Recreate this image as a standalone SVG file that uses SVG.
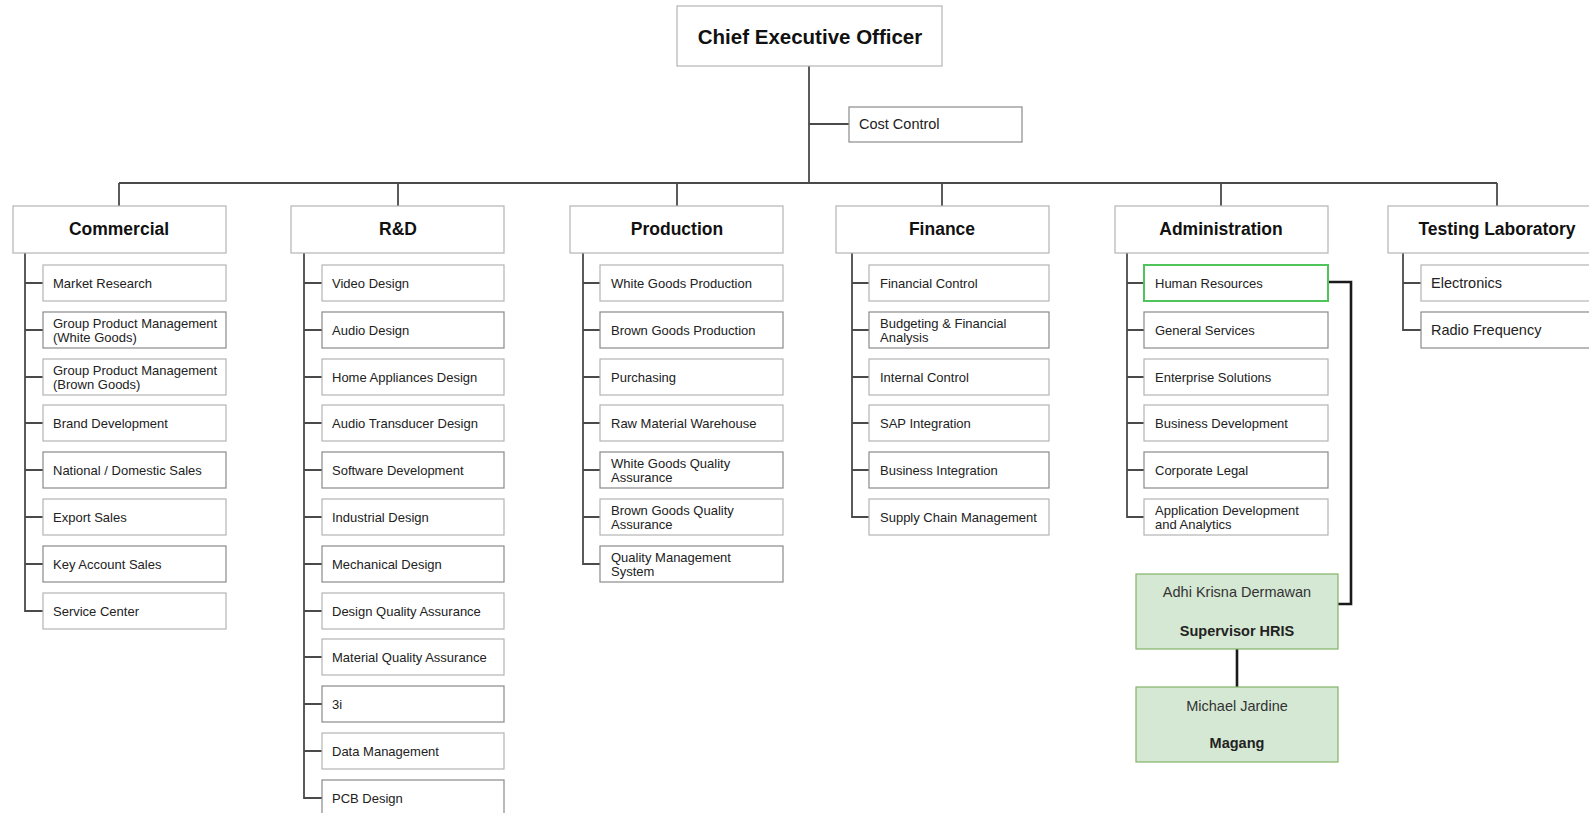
<svg xmlns="http://www.w3.org/2000/svg" width="1589" height="813" viewBox="0 0 1589 813">
<style>
.bg{fill:#ffffff}
.box{fill:#ffffff;stroke:#b4b4b4;stroke-width:1.2}
.dk{stroke:#8a8a8a}
.hr{fill:#ffffff;stroke:#4fc45a;stroke-width:2}
.grn{fill:#d5e8d4;stroke:#82b366;stroke-width:1.2}
.ln{fill:none;stroke:#4a4a4a;stroke-width:1.8}
.thk{fill:none;stroke:#1a1a1a;stroke-width:2.6}
text{font-family:"Liberation Sans",Arial,Helvetica,sans-serif;fill:#222}
.ceo{font-size:20.5px;font-weight:bold;text-anchor:middle;dominant-baseline:central;fill:#111}
.dep{font-size:17.5px;font-weight:bold;text-anchor:middle;dominant-baseline:central;fill:#111}
.ch{font-size:13px;dominant-baseline:central}
.cc{font-size:14.5px;dominant-baseline:central}
.tl{font-size:14.5px;dominant-baseline:central}
.gn{font-size:14.5px;text-anchor:middle;dominant-baseline:central;fill:#333}
.gb{font-size:14.5px;font-weight:bold;text-anchor:middle;dominant-baseline:central;fill:#222}
</style>
<rect class="bg" x="0" y="0" width="1589" height="813"/>

<g id="connectors">
  <!-- CEO trunk and bus -->
  <path class="ln" d="M809,66 V183 M809,124 H849 M119,183 H1497"/>
  <path class="ln" d="M119,183 V206 M398,183 V206 M677,183 V206 M942,183 V206 M1221,183 V206 M1497,183 V206"/>
  <!-- Commercial -->
  <path class="ln" d="M25,253 V611 H43 M25,283 H43 M25,330 H43 M25,377 H43 M25,423 H43 M25,470 H43 M25,517 H43 M25,564 H43"/>
  <!-- R&D -->
  <path class="ln" d="M304,253 V798 H322 M304,283 H322 M304,330 H322 M304,377 H322 M304,423 H322 M304,470 H322 M304,517 H322 M304,564 H322 M304,611 H322 M304,657 H322 M304,704 H322 M304,751 H322"/>
  <!-- Production -->
  <path class="ln" d="M583,253 V564 H600 M583,283 H600 M583,330 H600 M583,377 H600 M583,423 H600 M583,470 H600 M583,517 H600"/>
  <!-- Finance -->
  <path class="ln" d="M852,253 V517 H869 M852,283 H869 M852,330 H869 M852,377 H869 M852,423 H869 M852,470 H869"/>
  <!-- Administration -->
  <path class="ln" d="M1127,253 V517 H1144 M1127,283 H1144 M1127,330 H1144 M1127,377 H1144 M1127,423 H1144 M1127,470 H1144"/>
  <!-- Testing Laboratory -->
  <path class="ln" d="M1403,253 V330 H1421 M1403,283 H1421"/>
  <!-- HR to supervisor, supervisor to intern -->
  <path class="thk" d="M1328,282 H1351 V604 H1338"/>
  <path class="thk" d="M1237,649 V687"/>
</g>

<g id="ceo">
  <rect class="box" x="677" y="6" width="265" height="60"/>
  <text class="ceo" x="810" y="36">Chief Executive Officer</text>
</g>
<g id="cost-control">
  <rect class="box dk" x="849" y="107" width="173" height="35"/>
  <text class="cc" x="859" y="124">Cost Control</text>
</g>

<g id="commercial">
  <rect class="box" x="13" y="206" width="213" height="47"/>
  <text class="dep" x="119" y="229">Commercial</text>
</g>
<g id="rd">
  <rect class="box" x="291" y="206" width="213" height="47"/>
  <text class="dep" x="398" y="229">R&amp;D</text>
</g>
<g id="production">
  <rect class="box" x="570" y="206" width="213" height="47"/>
  <text class="dep" x="677" y="229">Production</text>
</g>
<g id="finance">
  <rect class="box" x="836" y="206" width="213" height="47"/>
  <text class="dep" x="942" y="229">Finance</text>
</g>
<g id="administration">
  <rect class="box" x="1115" y="206" width="213" height="47"/>
  <text class="dep" x="1221" y="229">Administration</text>
</g>
<g id="testing-laboratory">
  <rect class="box" x="1388" y="206" width="213" height="47"/>
  <text class="dep" x="1497" y="229">Testing Laboratory</text>
</g>

<!-- Commercial children -->
<g id="c1"><rect class="box" x="43" y="265" width="183" height="36"/><text class="ch" x="53" y="283">Market Research</text></g>
<g id="c2"><rect class="box dk" x="43" y="312" width="183" height="36"/><text class="ch" x="53" y="323">Group Product Management</text><text class="ch" x="53" y="337">(White Goods)</text></g>
<g id="c3"><rect class="box" x="43" y="359" width="183" height="36"/><text class="ch" x="53" y="370">Group Product Management</text><text class="ch" x="53" y="384">(Brown Goods)</text></g>
<g id="c4"><rect class="box" x="43" y="405" width="183" height="36"/><text class="ch" x="53" y="423">Brand Development</text></g>
<g id="c5"><rect class="box dk" x="43" y="452" width="183" height="36"/><text class="ch" x="53" y="470">National / Domestic Sales</text></g>
<g id="c6"><rect class="box" x="43" y="499" width="183" height="36"/><text class="ch" x="53" y="517">Export Sales</text></g>
<g id="c7"><rect class="box dk" x="43" y="546" width="183" height="36"/><text class="ch" x="53" y="564">Key Account Sales</text></g>
<g id="c8"><rect class="box" x="43" y="593" width="183" height="36"/><text class="ch" x="53" y="611">Service Center</text></g>

<!-- R&D children -->
<g id="r1"><rect class="box" x="322" y="265" width="182" height="36"/><text class="ch" x="332" y="283">Video Design</text></g>
<g id="r2"><rect class="box dk" x="322" y="312" width="182" height="36"/><text class="ch" x="332" y="330">Audio Design</text></g>
<g id="r3"><rect class="box" x="322" y="359" width="182" height="36"/><text class="ch" x="332" y="377">Home Appliances Design</text></g>
<g id="r4"><rect class="box" x="322" y="405" width="182" height="36"/><text class="ch" x="332" y="423">Audio Transducer Design</text></g>
<g id="r5"><rect class="box dk" x="322" y="452" width="182" height="36"/><text class="ch" x="332" y="470">Software Development</text></g>
<g id="r6"><rect class="box" x="322" y="499" width="182" height="36"/><text class="ch" x="332" y="517">Industrial Design</text></g>
<g id="r7"><rect class="box dk" x="322" y="546" width="182" height="36"/><text class="ch" x="332" y="564">Mechanical Design</text></g>
<g id="r8"><rect class="box" x="322" y="593" width="182" height="36"/><text class="ch" x="332" y="611">Design Quality Assurance</text></g>
<g id="r9"><rect class="box" x="322" y="639" width="182" height="36"/><text class="ch" x="332" y="657">Material Quality Assurance</text></g>
<g id="r10"><rect class="box dk" x="322" y="686" width="182" height="36"/><text class="ch" x="332" y="704">3i</text></g>
<g id="r11"><rect class="box" x="322" y="733" width="182" height="36"/><text class="ch" x="332" y="751">Data Management</text></g>
<g id="r12"><rect class="box dk" x="322" y="780" width="182" height="36"/><text class="ch" x="332" y="798">PCB Design</text></g>

<!-- Production children -->
<g id="p1"><rect class="box" x="600" y="265" width="183" height="36"/><text class="ch" x="611" y="283">White Goods Production</text></g>
<g id="p2"><rect class="box dk" x="600" y="312" width="183" height="36"/><text class="ch" x="611" y="330">Brown Goods Production</text></g>
<g id="p3"><rect class="box" x="600" y="359" width="183" height="36"/><text class="ch" x="611" y="377">Purchasing</text></g>
<g id="p4"><rect class="box" x="600" y="405" width="183" height="36"/><text class="ch" x="611" y="423">Raw Material Warehouse</text></g>
<g id="p5"><rect class="box dk" x="600" y="452" width="183" height="36"/><text class="ch" x="611" y="463">White Goods Quality</text><text class="ch" x="611" y="477">Assurance</text></g>
<g id="p6"><rect class="box" x="600" y="499" width="183" height="36"/><text class="ch" x="611" y="510">Brown Goods Quality</text><text class="ch" x="611" y="524">Assurance</text></g>
<g id="p7"><rect class="box dk" x="600" y="546" width="183" height="36"/><text class="ch" x="611" y="557">Quality Management</text><text class="ch" x="611" y="571">System</text></g>

<!-- Finance children -->
<g id="f1"><rect class="box" x="869" y="265" width="180" height="36"/><text class="ch" x="880" y="283">Financial Control</text></g>
<g id="f2"><rect class="box dk" x="869" y="312" width="180" height="36"/><text class="ch" x="880" y="323">Budgeting &amp; Financial</text><text class="ch" x="880" y="337">Analysis</text></g>
<g id="f3"><rect class="box" x="869" y="359" width="180" height="36"/><text class="ch" x="880" y="377">Internal Control</text></g>
<g id="f4"><rect class="box" x="869" y="405" width="180" height="36"/><text class="ch" x="880" y="423">SAP Integration</text></g>
<g id="f5"><rect class="box dk" x="869" y="452" width="180" height="36"/><text class="ch" x="880" y="470">Business Integration</text></g>
<g id="f6"><rect class="box" x="869" y="499" width="180" height="36"/><text class="ch" x="880" y="517">Supply Chain Management</text></g>

<!-- Administration children -->
<g id="a1"><rect class="hr" x="1144" y="265" width="184" height="36"/><text class="ch" x="1155" y="283">Human Resources</text></g>
<g id="a2"><rect class="box dk" x="1144" y="312" width="184" height="36"/><text class="ch" x="1155" y="330">General Services</text></g>
<g id="a3"><rect class="box" x="1144" y="359" width="184" height="36"/><text class="ch" x="1155" y="377">Enterprise Solutions</text></g>
<g id="a4"><rect class="box" x="1144" y="405" width="184" height="36"/><text class="ch" x="1155" y="423">Business Development</text></g>
<g id="a5"><rect class="box dk" x="1144" y="452" width="184" height="36"/><text class="ch" x="1155" y="470">Corporate Legal</text></g>
<g id="a6"><rect class="box" x="1144" y="499" width="184" height="36"/><text class="ch" x="1155" y="510">Application Development</text><text class="ch" x="1155" y="524">and Analytics</text></g>

<!-- Testing Laboratory children -->
<g id="t1"><rect class="box" x="1421" y="265" width="180" height="36"/><text class="tl" x="1431" y="283">Electronics</text></g>
<g id="t2"><rect class="box dk" x="1421" y="312" width="180" height="36"/><text class="tl" x="1431" y="330">Radio Frequency</text></g>

<!-- HRIS people -->
<g id="supervisor">
  <rect class="grn" x="1136" y="574" width="202" height="75"/>
  <text class="gn" x="1237" y="592">Adhi Krisna Dermawan</text>
  <text class="gb" x="1237" y="631">Supervisor HRIS</text>
</g>
<g id="intern">
  <rect class="grn" x="1136" y="687" width="202" height="75"/>
  <text class="gn" x="1237" y="706">Michael Jardine</text>
  <text class="gb" x="1237" y="743">Magang</text>
</g>
</svg>
